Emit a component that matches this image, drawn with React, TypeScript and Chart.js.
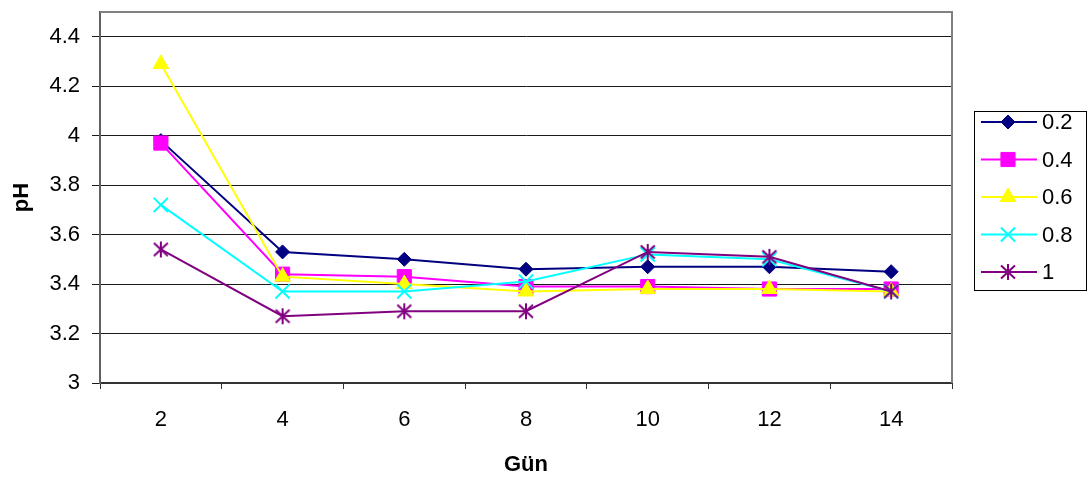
import React, { useEffect, useRef } from 'react';
import { Chart, registerables } from 'chart.js';
import { drawPoint } from 'chart.js/helpers';

Chart.register(...registerables);

// Sampling days (x categories)
const days = ['2', '4', '6', '8', '10', '12', '14'];
// Series names shown in the legend
const seriesNames = ['0.2', '0.4', '0.6', '0.8', '1'];
// pH readings per series
const ph02 = [3.98, 3.53, 3.5, 3.46, 3.47, 3.47, 3.45];
const ph04 = [3.97, 3.44, 3.43, 3.39, 3.39, 3.38, 3.38];
const ph06 = [4.29, 3.43, 3.4, 3.37, 3.38, 3.38, 3.37];
const ph08 = [3.72, 3.37, 3.37, 3.41, 3.52, 3.5, 3.37];
const ph10 = [3.54, 3.27, 3.29, 3.29, 3.53, 3.51, 3.37];
// Y-axis tick values
const yTicks = [3, 3.2, 3.4, 3.6, 3.8, 4, 4.2, 4.4];

const FONT = '"Liberation Sans", Arial, sans-serif';

function makeAsterisk(color: string): HTMLCanvasElement {
  const size = 20;
  const c = document.createElement('canvas');
  c.width = size;
  c.height = size;
  const g = c.getContext('2d')!;
  const m = size / 2;
  g.strokeStyle = color;
  g.lineWidth = 2;
  g.beginPath();
  g.moveTo(m, m - 8);
  g.lineTo(m, m + 8);
  g.moveTo(m - 7, m - 6.5);
  g.lineTo(m + 7, m + 6.5);
  g.moveTo(m + 7, m - 6.5);
  g.lineTo(m - 7, m + 6.5);
  g.stroke();
  return c;
}

export default function App() {
  const ref = useRef<HTMLCanvasElement | null>(null);

  useEffect(() => {
    if (!ref.current) return;
    const asterisk = makeAsterisk('#800080');

    const styles = [
      { color: '#000080', pointStyle: 'rectRot' as any, radius: 7, fill: '#000080', bw: 1 },
      { color: '#FF00FF', pointStyle: 'rect' as any, radius: 10, fill: '#FF00FF', bw: 1 },
      { color: '#FFFF00', pointStyle: 'triangle' as any, radius: 9, fill: '#FFFF00', bw: 1 },
      { color: '#00FFFF', pointStyle: 'crossRot' as any, radius: 10, fill: '#00FFFF', bw: 2 },
      { color: '#800080', pointStyle: asterisk as any, radius: 8, fill: '#800080', bw: 2 },
    ];
    const values = [ph02, ph04, ph06, ph08, ph10];

    const datasets = seriesNames.map((name, i) => ({
      label: name,
      data: values[i],
      borderColor: styles[i].color,
      backgroundColor: styles[i].fill,
      borderWidth: 2,
      pointStyle: styles[i].pointStyle,
      pointRadius: styles[i].radius,
      pointBackgroundColor: styles[i].fill,
      pointBorderColor: styles[i].color,
      pointBorderWidth: styles[i].bw,
      tension: 0,
      fill: false,
      order: seriesNames.length - i,
    }));

    const plotFrame = {
      id: 'plotFrame',
      beforeDatasetsDraw(chart: any) {
        const { ctx, chartArea } = chart;
        ctx.save();
        ctx.strokeStyle = '#808080';
        ctx.lineWidth = 2;
        ctx.beginPath();
        ctx.moveTo(chartArea.left, chartArea.top);
        ctx.lineTo(chartArea.right, chartArea.top);
        ctx.lineTo(chartArea.right, chartArea.bottom);
        ctx.stroke();
        ctx.restore();
      },
    };

    const boxLegend = {
      id: 'boxLegend',
      afterDraw(chart: any) {
        const { ctx } = chart;
        ctx.save();
        ctx.strokeStyle = '#000';
        ctx.lineWidth = 1;
        ctx.strokeRect(974.5, 111.5, 112, 179);
        seriesNames.forEach((name, i) => {
          const y = 122 + i * 37.5;
          const s = styles[i];
          ctx.strokeStyle = s.color;
          ctx.lineWidth = 2;
          ctx.beginPath();
          ctx.moveTo(981, y);
          ctx.lineTo(1037, y);
          ctx.stroke();
          ctx.fillStyle = s.fill;
          ctx.strokeStyle = s.color;
          ctx.lineWidth = s.bw;
          drawPoint(ctx, { pointStyle: s.pointStyle, radius: s.radius, rotation: 0, borderWidth: s.bw } as any, 1008, y);
          ctx.fillStyle = '#000';
          ctx.font = `22px ${FONT}`;
          ctx.textAlign = 'left';
          ctx.textBaseline = 'middle';
          ctx.fillText(name, 1042, y + 1);
        });
        ctx.restore();
      },
    };

    const chart = new Chart(ref.current, {
      type: 'line',
      data: { labels: days, datasets },
      plugins: [plotFrame, boxLegend],
      options: {
        animation: false,
        responsive: false,
        events: [],
        layout: { padding: { left: 0, right: 139, top: 9, bottom: 0 } },
        plugins: {
          legend: { display: false },
          tooltip: { enabled: false },
        },
        scales: {
          x: {
            type: 'category',
            offset: true,
            grid: {
              offset: true,
              drawOnChartArea: false,
              drawTicks: true,
              tickLength: 6,
              color: '#333',
            },
            border: { display: true, color: '#333', width: 2 },
            ticks: {
              color: '#000',
              font: { family: FONT, size: 22 },
              padding: 18,
              maxRotation: 0,
            },
            title: {
              display: true,
              text: 'Gün',
              color: '#000',
              font: { family: FONT, size: 22, weight: 'bold' },
              padding: { top: 0, bottom: 1 },
            },
            afterFit(scale: any) {
              scale.height = 96;
              scale.paddingLeft = 0;
              scale.paddingRight = 0;
            },
          },
          y: {
            type: 'linear',
            min: 3,
            max: 4.5,
            grid: {
              color: '#1a1a1a',
              lineWidth: 1,
              drawTicks: true,
              tickLength: 8,
            },
            border: { display: true, color: '#606060', width: 2 },
            ticks: {
              color: '#000',
              font: { family: FONT, size: 22 },
              padding: 12,
              callback: (v: any) => String(Number(v)),
            },
            afterBuildTicks(scale: any) {
              scale.ticks = yTicks.map((v) => ({ value: v }));
            },
            title: {
              display: true,
              text: 'pH',
              color: '#000',
              font: { family: FONT, size: 22, weight: 'bold' },
              padding: { top: 9, bottom: 0 },
            },
            afterFit(scale: any) {
              scale.width = 100;
              scale.paddingTop = 0;
              scale.paddingBottom = 0;
            },
          },
        },
      },
    });

    return () => chart.destroy();
  }, []);

  return (
    <div style={{ position: 'fixed', left: 0, top: 0, width: 1091, height: 479, background: '#fff' }}>
      <canvas ref={ref} width={1091} height={479} style={{ display: 'block' }} />
    </div>
  );
}
